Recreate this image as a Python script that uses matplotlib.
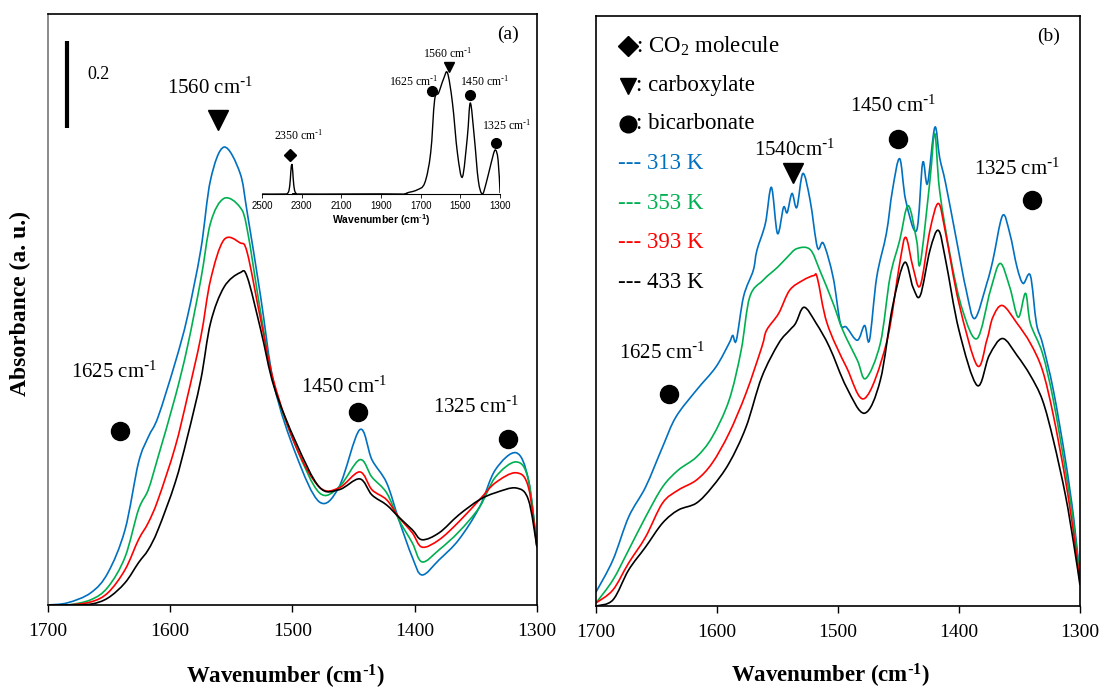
import matplotlib
matplotlib.use("Agg")
import matplotlib.pyplot as plt
from matplotlib.path import Path
from matplotlib.patches import PathPatch
import numpy as np

plt.rcParams["font.family"] = ["Liberation Serif", "DejaVu Sans"]
plt.rcParams["mathtext.default"] = "regular"

# Panel (a): wavenumber (cm-1) and absorbance for each temperature
wn_a = [1700, 1684, 1665, 1651, 1637, 1626, 1618, 1610, 1596, 1586, 1575, 1567, 1556, 1543,
        1537, 1526, 1515, 1497, 1478, 1462, 1445, 1435, 1423, 1413, 1402, 1394, 1380, 1364,
        1347, 1334, 1317, 1307, 1300]
a_313 = [0.0, 0.005, 0.028, 0.074, 0.173, 0.327, 0.386, 0.432, 0.557, 0.662, 0.817, 0.978, 1.053, 0.994,
         0.902, 0.708, 0.505, 0.345, 0.237, 0.271, 0.403, 0.334, 0.281, 0.196, 0.110, 0.069, 0.104, 0.150,
         0.225, 0.311, 0.350, 0.288, 0.133]
a_353 = [0.0, 0.0, 0.012, 0.041, 0.110, 0.219, 0.265, 0.340, 0.478, 0.593, 0.748, 0.879, 0.935, 0.915,
         0.863, 0.672, 0.505, 0.363, 0.258, 0.271, 0.334, 0.294, 0.258, 0.196, 0.143, 0.099, 0.127, 0.168,
         0.225, 0.294, 0.329, 0.288, 0.133]
a_393 = [0.0, 0.0, 0.007, 0.028, 0.081, 0.150, 0.189, 0.242, 0.363, 0.478, 0.616, 0.748, 0.840, 0.833,
         0.810, 0.656, 0.511, 0.363, 0.271, 0.269, 0.306, 0.265, 0.242, 0.202, 0.166, 0.133, 0.150, 0.191,
         0.242, 0.281, 0.304, 0.271, 0.133]
a_433 = [0.0, 0.0, 0.002, 0.016, 0.051, 0.097, 0.127, 0.173, 0.281, 0.386, 0.518, 0.649, 0.731, 0.764,
         0.754, 0.633, 0.501, 0.373, 0.271, 0.265, 0.290, 0.253, 0.230, 0.202, 0.173, 0.150, 0.166, 0.207,
         0.242, 0.258, 0.269, 0.242, 0.133]

# Inset of panel (a): full range spectrum
wn_inset = [2500, 2400, 2370, 2360, 2355, 2350, 2345, 2340, 2330, 2300, 1800, 1790, 1770, 1720,
            1680, 1650, 1630, 1610, 1585, 1565, 1540, 1515, 1490, 1465, 1450, 1430, 1410, 1390,
            1370, 1345, 1325, 1310, 1300]
abs_inset = [0, 0, 0.01, 0.09, 0.22, 0.30, 0.22, 0.09, 0.01, 0, 0, -0.02, 0.01, 0.04,
             0.11, 0.41, 0.94, 1.01, 1.15, 1.21, 0.91, 0.41, 0.17, 0.57, 0.91, 0.57, 0.14, 0,
             0.11, 0.31, 0.44, 0.34, 0.01]

# Panel (b)
wn_b313 = [1700, 1686, 1673, 1659, 1645, 1634, 1617, 1601, 1590, 1587, 1584, 1578, 1570, 1567,
           1560, 1555, 1550, 1545, 1542, 1538, 1534, 1529, 1523, 1517, 1512, 1504, 1498, 1493,
           1484, 1478, 1474, 1468, 1460, 1455, 1449, 1444, 1435, 1430, 1426, 1420, 1416, 1411,
           1402, 1394, 1387, 1377, 1372, 1364, 1358, 1352, 1347, 1341, 1336, 1331, 1322, 1312,
           1305, 1300]
b_313 = [0.032, 0.106, 0.205, 0.274, 0.366, 0.435, 0.497, 0.550, 0.605, 0.623, 0.612, 0.713, 0.773, 0.819,
         0.881, 0.964, 0.858, 0.918, 0.906, 0.950, 0.918, 0.996, 0.934, 0.826, 0.835, 0.757, 0.651, 0.642,
         0.612, 0.646, 0.612, 0.757, 0.858, 0.957, 1.030, 0.934, 0.865, 1.021, 0.973, 1.102, 1.033, 0.973,
         0.842, 0.727, 0.662, 0.743, 0.796, 0.899, 0.858, 0.780, 0.743, 0.761, 0.651, 0.605, 0.497, 0.336,
         0.198, 0.064]

wn_b353 = [1700, 1686, 1673, 1659, 1645, 1632, 1617, 1604, 1590, 1580, 1573, 1562, 1550, 1542,
           1534, 1523, 1515, 1504, 1496, 1484, 1477, 1465, 1457, 1449, 1442, 1435, 1432, 1424,
           1420, 1416, 1407, 1397, 1385, 1374, 1366, 1358, 1351, 1345, 1341, 1331, 1322, 1312,
           1305, 1300]
b_353 = [0.007, 0.060, 0.129, 0.205, 0.274, 0.313, 0.343, 0.389, 0.474, 0.589, 0.711, 0.750, 0.780, 0.803,
         0.823, 0.821, 0.773, 0.697, 0.635, 0.566, 0.524, 0.605, 0.757, 0.842, 0.922, 0.842, 0.789, 0.980,
         1.088, 0.957, 0.803, 0.681, 0.616, 0.727, 0.789, 0.734, 0.665, 0.720, 0.651, 0.582, 0.474, 0.313,
         0.186, 0.060]

wn_b393 = [1700, 1686, 1673, 1659, 1645, 1632, 1617, 1604, 1590, 1576, 1563, 1559, 1549, 1540,
           1529, 1520, 1517, 1509, 1493, 1478, 1460, 1449, 1444, 1438, 1432, 1424, 1417, 1411,
           1400, 1385, 1377, 1372, 1364, 1352, 1341, 1331, 1322, 1312, 1305, 1300]
b_393 = [0.007, 0.037, 0.099, 0.159, 0.237, 0.267, 0.290, 0.329, 0.398, 0.490, 0.596, 0.635, 0.674, 0.727,
         0.750, 0.761, 0.755, 0.651, 0.550, 0.478, 0.605, 0.789, 0.849, 0.780, 0.738, 0.865, 0.927, 0.858,
         0.697, 0.554, 0.612, 0.665, 0.692, 0.651, 0.605, 0.543, 0.439, 0.290, 0.163, 0.055]

wn_b433 = [1700, 1686, 1673, 1659, 1645, 1632, 1617, 1604, 1590, 1576, 1563, 1549, 1540, 1535,
           1528, 1518, 1507, 1493, 1478, 1465, 1455, 1445, 1438, 1432, 1424, 1417, 1411, 1400,
           1385, 1375, 1364, 1352, 1341, 1331, 1322, 1312, 1305, 1300]
b_433 = [0.0, 0.014, 0.083, 0.136, 0.191, 0.221, 0.237, 0.274, 0.329, 0.412, 0.527, 0.605, 0.635, 0.651,
         0.688, 0.651, 0.596, 0.504, 0.444, 0.520, 0.688, 0.791, 0.734, 0.715, 0.819, 0.865, 0.796, 0.635,
         0.508, 0.577, 0.616, 0.577, 0.531, 0.474, 0.382, 0.255, 0.140, 0.048]

temps = ["313 K", "353 K", "393 K", "433 K"]
colors = ["#0070C0", "#00B050", "#FF0000", "#000000"]

cm = r" cm$^{\text{-}1}$"


# smoothed line like Excel's "smooth line" option (bezier through the points)
def smooth_line(ax, x, y, **kw):
    x = np.asarray(x, float)
    y = np.asarray(y, float)
    n = len(x)
    verts = [(x[0], y[0])]
    codes = [Path.MOVETO]
    for i in range(n - 1):
        p0 = max(i - 1, 0)
        p3 = min(i + 2, n - 1)
        c1 = (x[i] + (x[i + 1] - x[p0]) / 6, y[i] + (y[i + 1] - y[p0]) / 6)
        c2 = (x[i + 1] - (x[p3] - x[i]) / 6, y[i + 1] - (y[p3] - y[i]) / 6)
        verts += [c1, c2, (x[i + 1], y[i + 1])]
        codes += [Path.CURVE4] * 3
    ax.add_patch(PathPatch(Path(verts, codes), fill=False, **kw))


fig = plt.figure(figsize=(11.01, 6.91), dpi=100)
ax1 = fig.add_axes([0.0436, 0.1245, 0.4441, 0.8552])
ax2 = fig.add_axes([0.5413, 0.123, 0.4396, 0.854])

for ax in (ax1, ax2):
    ax.set_xlim(1700, 1300)
    ax.set_ylim(0, 1.359)
    ax.set_xticks([1700, 1600, 1500, 1400, 1300])
    ax.set_yticks([])
    ax.tick_params(axis="x", direction="out", length=5, width=1, labelsize=14, pad=8)
    for s in ax.spines.values():
        s.set_linewidth(1.2)
ax1.spines["left"].set_color("#777777")

for ys, c in zip([a_313, a_353, a_393, a_433], colors):
    smooth_line(ax1, wn_a, ys, edgecolor=c, lw=1.2)

for xs, ys, c in zip([wn_b313, wn_b353, wn_b393, wn_b433], [b_313, b_353, b_393, b_433], colors):
    smooth_line(ax2, xs, ys, edgecolor=c, lw=1.2)

# annotations panel (a)
ax1.text(1567, 1.189, "1560" + cm, ha="center", va="center", fontsize=15)
ax1.plot(1561, 1.116, marker="v", color="k", ms=14)
ax1.text(1646, 0.536, "1625" + cm, ha="center", va="center", fontsize=15)
ax1.plot(1641, 0.40, marker="o", color="k", ms=13)
ax1.text(1458, 0.500, "1450" + cm, ha="center", va="center", fontsize=15)
ax1.plot(1446, 0.444, marker="o", color="k", ms=13)
ax1.text(1350, 0.455, "1325" + cm, ha="center", va="center", fontsize=15)
ax1.plot(1324, 0.382, marker="o", color="k", ms=13)
ax1.text(0.94, 0.965, "(a)", transform=ax1.transAxes, ha="center", va="center", fontsize=14)

# scale bar (0.2 absorbance)
ax1.plot([1684.5, 1684.5], [1.097, 1.297], color="k", lw=3, solid_capstyle="butt")
ax1.text(1659, 1.219, "0.2", ha="center", va="center", fontsize=13)

# inset
axi = fig.add_axes([0.238, 0.7192, 0.2162, 0.194])
smooth_line(axi, wn_inset, abs_inset, edgecolor="k", lw=1.0)
axi.set_xlim(2500, 1300)
axi.set_ylim(0, 1.34)
axi.patch.set_alpha(0)
for s in ["top", "right", "left"]:
    axi.spines[s].set_visible(False)
axi.spines["bottom"].set_linewidth(0.8)
axi.set_yticks([])
axi.set_xticks([2500, 2300, 2100, 1900, 1700, 1500, 1300])
axi.tick_params(axis="x", length=3, width=0.6, labelsize=7, pad=2)
for lab in axi.get_xticklabels():
    lab.set_family("Liberation Sans")
axi.set_xlabel(r"Wavenumber (cm$^{\text{-}1}$)", fontsize=7.5, fontweight="bold",
               family="Liberation Sans", labelpad=1)
ins_labels = [("2350", 2313, 0.59, 2359, 0.39, "D"),
              ("1625", 1734, 1.13, 1643, 1.03, "o"),
              ("1560", 1562, 1.41, 1557, 1.27, "v"),
              ("1450", 1376, 1.13, 1451, 0.99, "o"),
              ("1325", 1265, 0.69, 1320, 0.51, "o")]
for lbl, tx, ty, mx, my, mk in ins_labels:
    axi.text(tx, ty, lbl + cm, ha="center", va="center", fontsize=8.5, clip_on=False)
    axi.plot(mx, my, marker=mk, color="k", ms=7 if mk != "D" else 6, clip_on=False)

# annotations panel (b)
ax2.text(1536, 1.049, r"1540cm$^{\text{-}1}$", ha="center", va="center", fontsize=15)
ax2.plot(1537, 0.998, marker="v", color="k", ms=14)
ax2.text(1454, 1.152, "1450" + cm, ha="center", va="center", fontsize=15)
ax2.plot(1450, 1.076, marker="o", color="k", ms=13)
ax2.text(1352, 1.007, "1325" + cm, ha="center", va="center", fontsize=15)
ax2.plot(1340, 0.934, marker="o", color="k", ms=13)
ax2.text(1645, 0.582, "1625" + cm, ha="center", va="center", fontsize=15)
ax2.plot(1640, 0.488, marker="o", color="k", ms=13)
ax2.text(0.935, 0.965, "(b)", transform=ax2.transAxes, ha="center", va="center", fontsize=14)

# legend-like labels in panel (b)
sym = [("D", ": CO$_2$ molecule", 1.290), ("v", ": carboxylate", 1.198), ("o", ": bicarbonate", 1.111)]
for mk, txt, y in sym:
    ax2.plot(1673.5, y, marker=mk, color="k", ms=12 if mk != "D" else 10)
    ax2.text(1667, y, txt, ha="left", va="center", fontsize=16.5)
for i, (t, c) in enumerate(zip(temps, colors)):
    y = 1.019 - i * 0.0915
    ax2.text(1682, y, "--- " + t, ha="left", va="center", fontsize=16.5, color=c)

# axis labels
fig.text(20 / 1101, 1 - 304 / 691, "Absorbance (a. u.)", rotation=90, ha="center", va="center",
         fontsize=17, fontweight="bold")
fig.text(286 / 1101, 1 - 677 / 691, r"Wavenumber (cm$^{\text{-}1}$)", ha="center", va="center",
         fontsize=16.5, fontweight="bold")
fig.text(831 / 1101, 1 - 676 / 691, r"Wavenumber (cm$^{\text{-}1}$)", ha="center", va="center",
         fontsize=16.5, fontweight="bold")

fig.savefig("out.png", dpi=100)
